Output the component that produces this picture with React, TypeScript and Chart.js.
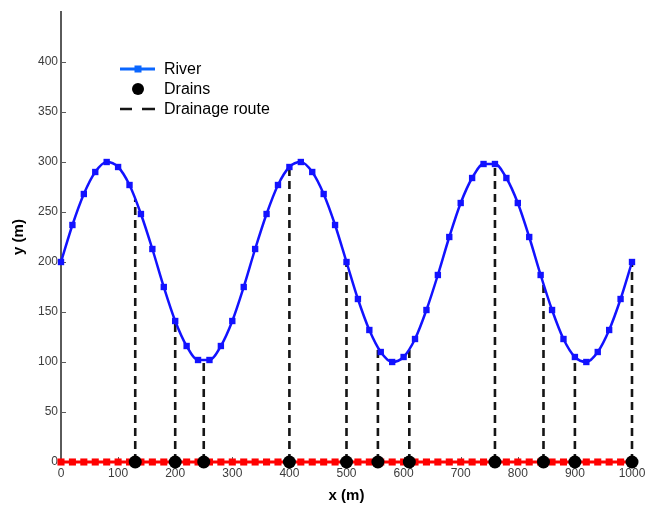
import React, { useEffect, useRef } from 'react';
import { Chart, registerables } from 'chart.js';

Chart.register(...registerables);

// ---- data ----
const RIVER_X = [0, 20, 40, 60, 80, 100, 120, 140, 160, 180, 200, 220, 240, 260, 280, 300, 320, 340, 360, 380, 400, 420, 440, 460, 480, 500, 520, 540, 560, 580, 600, 620, 640, 660, 680, 700, 720, 740, 760, 780, 800, 820, 840, 860, 880, 900, 920, 940, 960, 980, 1000];
const RIVER_Y = [200, 237, 268, 290, 300, 295, 277, 248, 213, 175, 141, 116, 102, 102, 116, 141, 175, 213, 248, 277, 295, 300, 290, 268, 237, 200, 163, 132, 110, 100, 105, 123, 152, 187, 225, 259, 284, 298, 298, 284, 259, 225, 187, 152, 123, 105, 100, 110, 132, 163, 200];
const BASE_X = [0, 20, 40, 60, 80, 100, 120, 140, 160, 180, 200, 220, 240, 260, 280, 300, 320, 340, 360, 380, 400, 420, 440, 460, 480, 500, 520, 540, 560, 580, 600, 620, 640, 660, 680, 700, 720, 740, 760, 780, 800, 820, 840, 860, 880, 900, 920, 940, 960, 980, 1000];
const BASE_Y = [0, 0, 0, 0, 0, 0, 0, 0, 0, 0, 0, 0, 0, 0, 0, 0, 0, 0, 0, 0, 0, 0, 0, 0, 0, 0, 0, 0, 0, 0, 0, 0, 0, 0, 0, 0, 0, 0, 0, 0, 0, 0, 0, 0, 0, 0, 0, 0, 0, 0, 0];
const DRAIN_X = [130, 200, 250, 400, 500, 555, 610, 760, 845, 900, 1000];
const X_TICKS = [0, 100, 200, 300, 400, 500, 600, 700, 800, 900, 1000];
const Y_TICKS = [0, 50, 100, 150, 200, 250, 300, 350, 400];
const LEGEND_LABELS = ['River', 'Drains', 'Drainage route'];
const X_TITLE = 'x (m)';
const Y_TITLE = 'y (m)';

// ---- styles ----
const FONT = '"Liberation Sans", Arial, sans-serif';
const AXIS_COLOR = '#5a5a5a';
const TICK_TEXT = '#3c3c3c';
const RIVER_COLOR = '#1212ff';
const RIVER_LEGEND = '#0a66ff';
const BASE_COLOR = '#ff0000';
const ROUTE_COLOR = '#151515';

function riverAt(x: number): number {
  for (let i = 0; i < RIVER_X.length - 1; i++) {
    const x0 = RIVER_X[i], x1 = RIVER_X[i + 1];
    if (x >= x0 && x <= x1) {
      const t = (x - x0) / (x1 - x0);
      return RIVER_Y[i] + t * (RIVER_Y[i + 1] - RIVER_Y[i]);
    }
  }
  return RIVER_Y[RIVER_Y.length - 1];
}

const decorPlugin = {
  id: 'decor',
  beforeDatasetsDraw(chart: any) {
    const ctx = chart.ctx;
    const { left, bottom } = chart.chartArea;
    const xs = chart.scales.x;
    const ys = chart.scales.y;
    ctx.save();
    ctx.strokeStyle = AXIS_COLOR;
    ctx.lineWidth = 1;
    Y_TICKS.forEach((v) => {
      const p = Math.round(ys.getPixelForValue(v)) + 0.5;
      ctx.beginPath();
      ctx.moveTo(left, p);
      ctx.lineTo(left + 5, p);
      ctx.stroke();
    });
    X_TICKS.forEach((v) => {
      const p = Math.round(xs.getPixelForValue(v)) + 0.5;
      ctx.beginPath();
      ctx.moveTo(p, bottom);
      ctx.lineTo(p, bottom - 5);
      ctx.stroke();
    });
    ctx.restore();
  },
  afterDraw(chart: any) {
    const ctx = chart.ctx;
    const { left, right, top, bottom } = chart.chartArea;
    ctx.save();
    // axis titles
    ctx.fillStyle = '#000';
    ctx.font = 'bold 15px ' + FONT;
    ctx.textAlign = 'center';
    ctx.textBaseline = 'middle';
    ctx.fillText(X_TITLE, (left + right) / 2, 496);
    ctx.save();
    ctx.translate(19, (top + bottom) / 2);
    ctx.rotate(-Math.PI / 2);
    ctx.fillText(Y_TITLE, 0, 0);
    ctx.restore();

    // legend
    const lx0 = 120, lx1 = 155, lcx = 138;
    const rows = [69, 89, 109];
    ctx.strokeStyle = RIVER_LEGEND;
    ctx.lineWidth = 3;
    ctx.beginPath();
    ctx.moveTo(lx0, rows[0]);
    ctx.lineTo(lx1, rows[0]);
    ctx.stroke();
    ctx.fillStyle = RIVER_LEGEND;
    ctx.fillRect(lcx - 3.5, rows[0] - 3.5, 7, 7);
    ctx.fillStyle = '#000';
    ctx.beginPath();
    ctx.arc(lcx, rows[1], 6, 0, Math.PI * 2);
    ctx.fill();
    ctx.strokeStyle = ROUTE_COLOR;
    ctx.lineWidth = 2.7;
    ctx.beginPath();
    ctx.moveTo(lx0, rows[2]);
    ctx.lineTo(lx0 + 12, rows[2]);
    ctx.moveTo(lx0 + 22, rows[2]);
    ctx.lineTo(lx1, rows[2]);
    ctx.stroke();
    ctx.fillStyle = '#000';
    ctx.font = '16px ' + FONT;
    ctx.textAlign = 'left';
    ctx.textBaseline = 'middle';
    LEGEND_LABELS.forEach((t, i) => ctx.fillText(t, 164, rows[i] + 0.5));
    ctx.restore();
  },
};

export default function App() {
  const ref = useRef<HTMLCanvasElement | null>(null);

  useEffect(() => {
    document.body.style.margin = '0';
    const canvas = ref.current;
    if (!canvas) return;

    const routeSets = DRAIN_X.map((x) => ({
      type: 'line' as const,
      data: [
        { x, y: 0 },
        { x, y: riverAt(x) },
      ],
      borderColor: ROUTE_COLOR,
      borderWidth: 2.6,
      borderDash: [8, 5],
      pointRadius: 0,
      clip: false,
      order: 3,
    }));

    const chart = new Chart(canvas, {
      type: 'line',
      data: {
        datasets: [
          {
            type: 'scatter' as any,
            data: DRAIN_X.map((x) => ({ x, y: 0 })),
            pointStyle: 'circle',
            pointRadius: 6.5,
            pointBackgroundColor: '#000',
            pointBorderWidth: 0,
            showLine: false,
            clip: false,
            order: 0,
          },
          {
            data: BASE_X.map((x, i) => ({ x, y: BASE_Y[i] })),
            borderColor: BASE_COLOR,
            borderWidth: 3,
            pointStyle: 'rect',
            pointRadius: 5,
            pointBackgroundColor: BASE_COLOR,
            pointBorderWidth: 0,
            clip: false,
            order: 1,
          },
          {
            data: RIVER_X.map((x, i) => ({ x, y: RIVER_Y[i] })),
            borderColor: RIVER_COLOR,
            borderWidth: 2.5,
            cubicInterpolationMode: 'monotone',
            pointStyle: 'rect',
            pointRadius: 4.5,
            pointBackgroundColor: RIVER_COLOR,
            pointBorderWidth: 0,
            clip: false,
            order: 2,
          },
          ...routeSets,
        ] as any,
      },
      options: {
        animation: false,
        responsive: true,
        maintainAspectRatio: false,
        layout: { padding: { top: 12, right: 15, left: 0, bottom: 0 } },
        plugins: {
          legend: { display: false },
          tooltip: { enabled: false },
        },
        scales: {
          x: {
            type: 'linear',
            min: 0,
            max: 1000,
            afterBuildTicks: (s: any) => {
              s.ticks = X_TICKS.map((v) => ({ value: v }));
            },
            afterFit: (s: any) => {
              s.height = 47;
              s.paddingLeft = 0;
              s.paddingRight = 0;
            },
            grid: { display: false, drawTicks: false },
            border: { display: true, color: AXIS_COLOR, width: 2 },
            ticks: {
              padding: 4,
              color: TICK_TEXT,
              font: { family: FONT, size: 12 },
              maxRotation: 0,
              autoSkip: false,
              callback: (v: any) => String(v),
            },
          },
          y: {
            type: 'linear',
            min: 0,
            max: 450,
            afterBuildTicks: (s: any) => {
              s.ticks = Y_TICKS.map((v) => ({ value: v }));
            },
            afterFit: (s: any) => {
              s.width = 61;
              s.paddingTop = 0;
              s.paddingBottom = 0;
            },
            grid: { display: false, drawTicks: false },
            border: { display: true, color: AXIS_COLOR, width: 2 },
            ticks: {
              padding: 3,
              color: TICK_TEXT,
              font: { family: FONT, size: 12 },
              autoSkip: false,
              callback: (v: any) => String(v),
            },
          },
        },
      },
      plugins: [decorPlugin],
    });

    return () => chart.destroy();
  }, []);

  return (
    <div style={{ position: 'absolute', left: 0, top: 0, width: 647, height: 509 }}>
      <canvas ref={ref} />
    </div>
  );
}
